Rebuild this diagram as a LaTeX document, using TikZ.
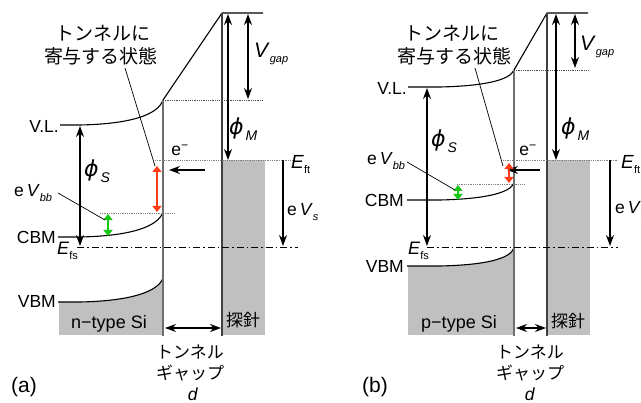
\documentclass[tikz,border=0pt]{standalone}
\usepackage{fontspec}
\setmainfont{Liberation Sans}
\newfontfamily\jp{Noto Sans CJK JP}
\newfontfamily\dv{DejaVu Sans}
\usetikzlibrary{arrows.meta}
\newcommand\lo[1]{\raisebox{-0.5ex}{\fontsize{11}{11}\selectfont #1}}
\newcommand\phlo[1]{\raisebox{-0.6ex}{\fontsize{14}{14}\selectfont\hspace{2pt}\textit{#1}}}
\newcommand\phiS{{\dv\fontsize{22}{22}\selectfont\itshape ϕ}}
\definecolor{myred}{RGB}{255,60,20}
\definecolor{mygreen}{RGB}{20,200,20}
\definecolor{fillgray}{RGB}{192,192,192}
\definecolor{surfgray}{RGB}{110,110,110}
\tikzset{
  lbl/.style={font=\fontsize{17.5}{20}\selectfont, inner sep=0pt},
  jpl/.style={font=\jp\fontsize{17}{20}\selectfont, inner sep=0pt},
  jpt/.style={font=\jp\fontsize{19}{22}\selectfont, inner sep=0pt},
  ln/.style={line width=1.1pt},
  arr/.style={line width=1.1pt, -{Stealth[length=11pt,width=8pt]}},
  darr/.style={line width=1.1pt, {Stealth[length=11pt,width=8pt]}-{Stealth[length=11pt,width=8pt]}},
  colarr/.style={line width=2.8pt, {Triangle[length=6pt,width=9pt]}-{Triangle[length=6pt,width=9pt]}},
  dotl/.style={densely dotted, line width=0.8pt, draw=gray},
  dotb/.style={densely dotted, line width=0.8pt, draw=black!70},
  dashdotl/.style={line width=1pt, dash pattern=on 7pt off 3pt on 1.5pt off 3pt},
  surf/.style={line width=1.4pt, draw=surfgray},
  fillg/.style={fill=fillgray},
  leader/.style={line width=0.7pt}
}
\begin{document}
\begin{tikzpicture}[x=1pt,y=-1pt]
\useasboundingbox (0,0) rectangle (641,403);
% ================= panel (a) =================
\fill[fillg] (59,302) -- (80,302) .. controls (130,301) and (158,292) .. (163,278) -- (163,335) -- (59,335) -- cycle;
\fill[fillg] (222,160) rectangle (265,335);
\coordinate (aVLs) at (60,125);
\coordinate (aVLb) at (80,125);
\coordinate (aVLe) at (163,100);
\coordinate (aTipT) at (222,13);
\coordinate (aTopR) at (263,13);
\draw[ln] (aVLs) -- (aVLb) .. controls (130,124) and (158,115) .. (aVLe) -- (aTipT) -- (aTopR);
\draw[ln] (58,237) -- (80,237) .. controls (130,236) and (158,227) .. (163,212);
\draw[ln] (58,302) -- (80,302) .. controls (130,301) and (158,292) .. (163,278);
\draw[surf] (163,100) -- (163,336);
\draw[line width=1.3pt, draw=black!75] (aTipT) -- (222,336);
\draw[dotb] (163,100) -- (263,100);
\draw[dotl] (155,160) -- (295,160);
\draw[dotl] (100,213) -- (175,213);
\draw[dashdotl] (77,248) -- (298,248);
\draw[darr] (228,14) -- (228,160);
\draw[darr] (248,14) -- (248,99);
\draw[darr] (80,126) -- (80,246);
\draw[arr] (283,160) -- (283,246);
\draw[arr] (205,170) -- (169,170);
\draw[darr] (165,328) -- (221,328);
\draw[colarr, myred] (157,166) -- (157,212);
\draw[colarr, mygreen] (108,214) -- (108,236);
\draw[leader] (125,68) -- (155,166);
\draw[leader] (58,193) -- (105,220);
\node[lbl, anchor=east] (aVL) at (59,126) {V.L.};
\node[lbl, anchor=east] (aCBM) at (56,237) {CBM};
\node[lbl, anchor=east] (aVBM) at (56,301) {VBM};
\node[lbl, anchor=base west] (aEfs) at (57,255) {\fontsize{18}{18}\selectfont\textit{E}\lo{fs}};
\node[lbl, anchor=west] (aVbb) at (14,193) {e\,\textit{V}\lo{\textit{bb}}};
\node[lbl, anchor=west] (aphiS) at (84,171) {\phiS\phlo{S}};
\node[jpt] (at1) at (103,33) {トンネルに};
\node[jpt] (at2) at (101,56) {寄与する状態};
\node[lbl] (ae) at (180,150) {e\textsuperscript{−}};
\node[lbl, anchor=west] (aphiM) at (229,129) {\phiS\phlo{M}};
\node[lbl, anchor=west] (aVgap) at (254,54) {\fontsize{21}{21}\selectfont\textit{V}\lo{\textit{gap}}};
\node[lbl, anchor=west] (aEft) at (291,165) {\fontsize{19}{19}\selectfont\textit{E}\lo{ft}};
\node[lbl, anchor=west] (aVs) at (287,212) {e\,\textit{V}\lo{\textit{s}}};
\node[lbl, font=\fontsize{18}{20}\selectfont] (an) at (109,324) {n−type Si};
\node[jpl] (atip) at (243,320) {探針};
\node[jpl] (ag1) at (190,352) {トンネル};
\node[jpl] (ag2) at (190,373) {ギャップ};
\node[lbl] (ad) at (193,394) {\textit{d}};
\node[lbl, font=\fontsize{21}{22}\selectfont] (alab) at (24,387) {(a)};
% ================= panel (b) =================
\fill[fillg] (408,266) -- (440,266) .. controls (485,265) and (510,259) .. (514,248) -- (514,335) -- (408,335) -- cycle;
\fill[fillg] (547,160) rectangle (590,335);
\coordinate (bVLs) at (408,87);
\coordinate (bVLb) at (440,87);
\coordinate (bVLe) at (514,70);
\coordinate (bTipT) at (547,13);
\coordinate (bTopR) at (588,13);
\draw[ln] (bVLs) -- (bVLb) .. controls (485,86) and (510,80) .. (bVLe) -- (bTipT) -- (bTopR);
\draw[ln] (407,200) -- (440,200) .. controls (485,199) and (510,193) .. (514,183);
\draw[ln] (407,266) -- (440,266) .. controls (485,265) and (510,259) .. (514,248);
\draw[surf] (514,70) -- (514,336);
\draw[line width=1.3pt, draw=black!75] (bTipT) -- (547,336);
\draw[dotb] (514,70) -- (588,70);
\draw[dotl] (503,160) -- (617,160);
\draw[dotl] (457,184) -- (525,184);
\draw[dashdotl] (427,248) -- (618,248);
\draw[darr] (556,14) -- (556,160);
\draw[darr] (575,14) -- (575,68);
\draw[darr] (427,88) -- (427,246);
\draw[arr] (610,160) -- (610,246);
\draw[arr] (540,170) -- (507,170);
\draw[darr] (516,328) -- (546,328);
\draw[colarr, myred] (509,163) -- (509,183);
\draw[colarr, mygreen] (458,185) -- (458,200);
\draw[leader] (475,68) -- (503,166);
\draw[leader] (407,162) -- (455,190);
\node[lbl, anchor=east] (bVL) at (407,88) {V.L.};
\node[lbl, anchor=east] (bCBM) at (404,200) {CBM};
\node[lbl, anchor=east] (bVBM) at (404,266) {VBM};
\node[lbl, anchor=base west] (bEfs) at (408,255) {\fontsize{18}{18}\selectfont\textit{E}\lo{fs}};
\node[lbl, anchor=west] (bVbb) at (367,161) {e\,\textit{V}\lo{\textit{bb}}};
\node[lbl, anchor=west] (bphiS) at (431,141) {\phiS\phlo{S}};
\node[jpt] (bt1) at (452,33) {トンネルに};
\node[jpt] (bt2) at (454,56) {寄与する状態};
\node[lbl] (be) at (528,150) {e\textsuperscript{−}};
\node[lbl, anchor=west] (bphiM) at (561,129) {\phiS\phlo{M}};
\node[lbl, anchor=west] (bVgap) at (580,47) {\fontsize{21}{21}\selectfont\textit{V}\lo{\textit{gap}}};
\node[lbl, anchor=west] (bEft) at (621,165) {\fontsize{19}{19}\selectfont\textit{E}\lo{ft}};
\node[lbl, anchor=west] (bVs) at (615,210) {e\,\textit{V}\lo{\textit{s}}};
\node[lbl, font=\fontsize{18}{20}\selectfont] (bp) at (459,324) {p−type Si};
\node[jpl] (btip) at (568,321) {探針};
\node[jpl] (bg1) at (530,352) {トンネル};
\node[jpl] (bg2) at (530,373) {ギャップ};
\node[lbl] (bd) at (530,394) {\textit{d}};
\node[lbl, font=\fontsize{21}{22}\selectfont] (blab) at (375,387) {(b)};
\end{tikzpicture}
\end{document}
